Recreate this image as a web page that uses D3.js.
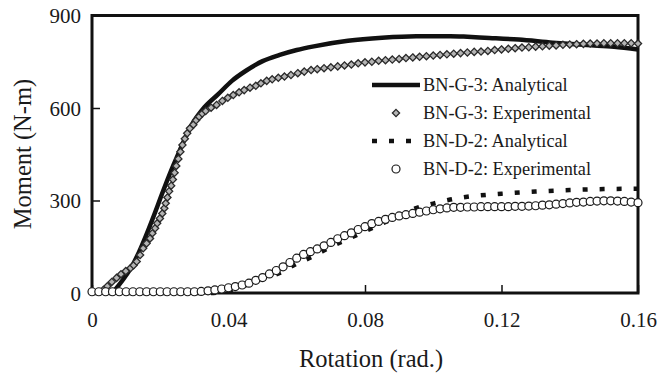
<!DOCTYPE html>
<html>
<head>
<meta charset="utf-8">
<script src="https://cdn.jsdelivr.net/npm/d3@7"></script>
<style>
  html, body { margin: 0; padding: 0; background: #fff; }
  svg { display: block; }
  svg text { font-family: "Liberation Serif", "DejaVu Serif", serif; fill: #1a1a1a; }
</style>
</head>
<body>
<svg id="chart" width="672" height="374"></svg>
<script>
// ---- data (rotation in rad., moment in N-m) ----
const xTicks = [0, 0.04, 0.08, 0.12, 0.16];
const yTicks = [0, 300, 600, 900];
const xTickLabels = ['0', '0.04', '0.08', '0.12', '0.16'];

// BN-G-3 analytical (solid)
const g3Analytical = [
  [0.0060, 0], [0.0116, 85], [0.0243, 426], [0.0292, 545], [0.0330, 603],
  [0.0370, 645], [0.0410, 688], [0.0450, 720], [0.0500, 752], [0.0550, 772],
  [0.0600, 788], [0.0650, 800], [0.0750, 818], [0.0850, 828], [0.0950, 833],
  [0.1050, 833], [0.1100, 831], [0.1150, 828], [0.1250, 822], [0.1350, 812],
  [0.1450, 804], [0.1530, 799], [0.1600, 790]
];

// BN-G-3 experimental (diamonds)
const g3Experimental = [
  [0.0033, 10], [0.0045, 22], [0.0058, 36], [0.0072, 49], [0.0085, 61],
  [0.0099, 71], [0.0113, 81], [0.0122, 90], [0.0131, 102], [0.0141, 123],
  [0.0150, 145], [0.0160, 161], [0.0170, 177], [0.0177, 194], [0.0185, 210],
  [0.0191, 226], [0.0199, 242], [0.0206, 258], [0.0212, 275], [0.0216, 291],
  [0.0221, 310], [0.0226, 330], [0.0232, 348], [0.0237, 368], [0.0242, 390],
  [0.0247, 412], [0.0253, 435], [0.0259, 458], [0.0265, 480], [0.0272, 500],
  [0.0279, 518], [0.0287, 534], [0.0297, 546], [0.0305, 560], [0.0314, 572],
  [0.0323, 582], [0.0333, 590], [0.0349, 601], [0.0365, 610], [0.0382, 623],
  [0.0398, 633], [0.0414, 642], [0.0431, 651], [0.0446, 658], [0.0463, 666],
  [0.0480, 672], [0.0495, 680], [0.0512, 688], [0.0528, 693], [0.0546, 698],
  [0.0564, 702], [0.0583, 707], [0.0603, 713], [0.0622, 718], [0.0642, 723],
  [0.066, 726], [0.068, 729], [0.070, 732], [0.072, 735], [0.074, 738],
  [0.076, 741], [0.078, 745], [0.080, 748], [0.082, 750], [0.084, 753],
  [0.086, 755], [0.088, 757], [0.090, 759], [0.092, 762], [0.094, 764],
  [0.096, 766], [0.098, 768], [0.100, 770], [0.102, 772], [0.104, 774],
  [0.106, 776], [0.108, 778], [0.110, 780], [0.112, 782], [0.114, 783],
  [0.116, 785], [0.118, 788], [0.120, 790], [0.122, 792], [0.124, 794],
  [0.126, 796], [0.128, 797], [0.130, 799], [0.132, 800], [0.134, 802],
  [0.136, 803], [0.138, 805], [0.140, 806], [0.142, 807], [0.144, 808],
  [0.146, 809], [0.148, 809], [0.150, 810], [0.152, 810], [0.154, 810],
  [0.156, 810], [0.158, 810], [0.160, 809]
];

// BN-D-2 analytical (dotted)
const d2Analytical = [
  [0, 0], [0.035, 0], [0.040, 8], [0.045, 25], [0.050, 45], [0.055, 65],
  [0.060, 95], [0.065, 120], [0.070, 150], [0.075, 175], [0.080, 200],
  [0.085, 225], [0.090, 250], [0.095, 275], [0.100, 290], [0.105, 303],
  [0.110, 312], [0.120, 322], [0.130, 329], [0.140, 334], [0.150, 337],
  [0.160, 338]
];

// BN-D-2 experimental (circles)
const d2Experimental = [
  [0, 4], [0.002, 4], [0.004, 4], [0.006, 4], [0.008, 4], [0.010, 4],
  [0.012, 4], [0.014, 4], [0.016, 4], [0.018, 4], [0.020, 4], [0.022, 4],
  [0.024, 4], [0.026, 4], [0.028, 4], [0.030, 4], [0.032, 5], [0.034, 7],
  [0.036, 10], [0.038, 13], [0.040, 17], [0.042, 21], [0.044, 26], [0.046, 32],
  [0.048, 41], [0.050, 50], [0.052, 62], [0.054, 73], [0.056, 85], [0.058, 99],
  [0.060, 113], [0.062, 125], [0.064, 134], [0.066, 143], [0.068, 153],
  [0.070, 164], [0.072, 176], [0.074, 186], [0.076, 195], [0.078, 206],
  [0.080, 215], [0.082, 225], [0.084, 232], [0.086, 239], [0.088, 245],
  [0.090, 250], [0.092, 254], [0.094, 258], [0.096, 262], [0.098, 266],
  [0.100, 270], [0.102, 273], [0.104, 276], [0.106, 278], [0.108, 278],
  [0.110, 279], [0.112, 279], [0.114, 280], [0.116, 280], [0.118, 280],
  [0.120, 280], [0.122, 280], [0.124, 281], [0.126, 281], [0.128, 282],
  [0.130, 283], [0.132, 285], [0.134, 286], [0.136, 288], [0.138, 290],
  [0.140, 292], [0.142, 294], [0.144, 295], [0.146, 297], [0.148, 298],
  [0.150, 299], [0.152, 299], [0.154, 298], [0.156, 297], [0.158, 295],
  [0.160, 293]
];

const legendLabels = [
  'BN-G-3: Analytical',
  'BN-G-3: Experimental',
  'BN-D-2: Analytical',
  'BN-D-2: Experimental'
];

const SERIF = '"Liberation Serif", "DejaVu Serif", serif';

// ---- layout ----
const plot = { left: 92, right: 638, top: 15.5, bottom: 293 };
const x = d3.scaleLinear().domain([0, 0.16]).range([plot.left, plot.right]);
const y = d3.scaleLinear().domain([0, 900]).range([plot.bottom, plot.top]);

const svg = d3.select('#chart');

// frame
svg.append('rect')
  .attr('x', plot.left).attr('y', plot.top)
  .attr('width', plot.right - plot.left).attr('height', plot.bottom - plot.top)
  .attr('fill', 'none').attr('stroke', '#111').attr('stroke-width', 3);

// axes: inward ticks, labels placed by hand to match the figure
const xAxis = svg.append('g').attr('transform', 'translate(0,' + plot.bottom + ')')
  .call(d3.axisBottom(x).tickValues(xTicks).tickSizeInner(-8).tickSizeOuter(0)
    .tickPadding(0).tickFormat((d, i) => xTickLabels[i]))
  .attr('font-family', SERIF);
xAxis.select('.domain').remove();
xAxis.selectAll('.tick line').attr('stroke', '#111').attr('stroke-width', 1.5);
xAxis.selectAll('.tick text')
  .attr('y', 33.5).attr('dy', null)
  .attr('font-size', 21).attr('font-family', SERIF).attr('fill', '#1a1a1a');

const yAxis = svg.append('g').attr('transform', 'translate(' + plot.left + ',0)')
  .call(d3.axisLeft(y).tickValues(yTicks).tickSizeInner(-8).tickSizeOuter(0)
    .tickPadding(0).tickFormat(d3.format('d')))
  .attr('font-family', SERIF);
yAxis.select('.domain').remove();
yAxis.selectAll('.tick line').attr('stroke', '#111').attr('stroke-width', 1.5);
yAxis.selectAll('.tick text')
  .attr('x', -11).attr('dy', '0.34em')
  .attr('font-size', 21).attr('font-family', SERIF).attr('fill', '#1a1a1a');

// axis titles
svg.append('text')
  .attr('x', 371).attr('y', 367)
  .attr('text-anchor', 'middle').attr('font-size', 24.5).attr('font-family', SERIF)
  .text('Rotation (rad.)');
svg.append('text')
  .attr('transform', 'translate(31,154) rotate(-90)')
  .attr('text-anchor', 'middle').attr('font-size', 24.5).attr('font-family', SERIF)
  .text('Moment (N-m)');

// ---- series ----
const line = d3.line().x(d => x(d[0])).y(d => y(d[1])).curve(d3.curveMonotoneX);
const diamond = 'M0,-3.6L3.6,0L0,3.6L-3.6,0Z';

svg.append('path').datum(g3Analytical)
  .attr('d', line).attr('fill', 'none')
  .attr('stroke', '#111').attr('stroke-width', 4.5);

svg.append('path').datum(d2Analytical)
  .attr('d', line).attr('fill', 'none')
  .attr('stroke', '#111').attr('stroke-width', 4.5)
  .attr('stroke-dasharray', '5 12');

svg.append('g').selectAll('path').data(g3Experimental).join('path')
  .attr('d', diamond)
  .attr('transform', d => 'translate(' + x(d[0]) + ',' + y(d[1]) + ')')
  .attr('fill', '#b4b4b4').attr('stroke', '#2a2a2a').attr('stroke-width', 1.3);

svg.append('g').selectAll('circle').data(d2Experimental).join('circle')
  .attr('cx', d => x(d[0])).attr('cy', d => y(d[1])).attr('r', 4)
  .attr('fill', '#fff').attr('stroke', '#1a1a1a').attr('stroke-width', 1.2);

// ---- legend ----
const legend = svg.append('g');
const rowY = [85, 113, 141, 169];
const symX0 = 372, symX1 = 420, textX = 423;

legend.append('line')
  .attr('x1', symX0).attr('x2', symX1).attr('y1', rowY[0]).attr('y2', rowY[0])
  .attr('stroke', '#111').attr('stroke-width', 4.5);
legend.append('path')
  .attr('d', diamond).attr('transform', 'translate(396,' + rowY[1] + ')')
  .attr('fill', '#b4b4b4').attr('stroke', '#2a2a2a').attr('stroke-width', 1.3);
legend.append('line')
  .attr('x1', symX0).attr('x2', 412).attr('y1', rowY[2]).attr('y2', rowY[2])
  .attr('stroke', '#111').attr('stroke-width', 4.5).attr('stroke-dasharray', '5 12');
legend.append('circle')
  .attr('cx', 396).attr('cy', rowY[3]).attr('r', 4)
  .attr('fill', '#fff').attr('stroke', '#1a1a1a').attr('stroke-width', 1.2);

legend.selectAll('text.lbl').data(legendLabels).join('text')
  .attr('class', 'lbl')
  .attr('x', textX).attr('y', (d, i) => rowY[i] + 6)
  .attr('font-size', 18.3).attr('font-family', SERIF)
  .text(d => d);
</script>
</body>
</html>
